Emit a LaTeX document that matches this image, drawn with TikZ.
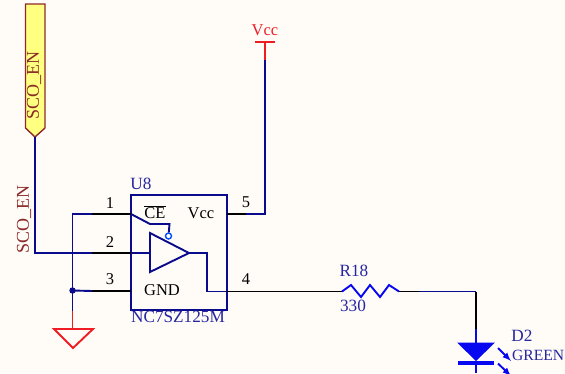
\documentclass[tikz,border=0pt]{standalone}
\usepackage{xcolor}
\usepackage{fontspec}
\setmainfont{Liberation Serif}
\definecolor{paper}{HTML}{FFFCF7}
\definecolor{wire}{HTML}{0A0A8C}
\definecolor{part}{HTML}{2626A0}
\definecolor{led}{HTML}{0808F0}
\definecolor{power}{HTML}{F01C24}
\definecolor{net}{HTML}{8C2A2A}
\definecolor{portfill}{HTML}{FFFF80}
\tikzset{
	wirel/.style={wire,line width=1.9pt},
	pinl/.style={black,line width=1.9pt},
	powerl/.style={power,line width=1.9pt},
	ledl/.style={led,line width=1.9pt},
	txt/.style={inner sep=0pt,font=\fontsize{16.5}{16.5}\selectfont},
	parttxt/.style={inner sep=0pt,text=part,font=\fontsize{17.2}{17.2}\selectfont},
	nettxt/.style={inner sep=0pt,text=net,rotate=90,font=\fontsize{18}{18}\selectfont},
}
\begin{document}
\begin{tikzpicture}[x=1pt,y=-1pt]
	\fill[paper] (0,0) rectangle (565,373);
	\useasboundingbox (0,0) rectangle (565,373);
	\clip (0,0) rectangle (565,373);
	% 端口
	\draw[fill=portfill,draw=net,line width=1.4pt] (25.5,4) -- (45,4) -- (45,128) -- (35,137) -- (25.5,128) -- cycle;
	\node[nettxt] (portlabel) at (34,85.5) {SCO\_EN};
	\node[nettxt] (netlabel) at (24,219.5) {SCO\_EN};
	% 连接点
	\coordinate (tip) at (35,137);
	\coordinate (c2) at (35,253);
	\coordinate (p2) at (92,253);
	\coordinate (e2) at (131,253);
	\coordinate (t1) at (72.5,214);
	\coordinate (p1) at (92,214);
	\coordinate (e1) at (131,214);
	\coordinate (p3) at (92,291);
	\coordinate (e3) at (131,291);
	\coordinate (g1) at (72.5,311);
	\coordinate (g2) at (72.5,329);
	\coordinate (j) at (72.5,290.5);
	\coordinate (e4) at (227,291.5);
	\coordinate (r1) at (342,291.5);
	\coordinate (r2) at (399,291.5);
	\coordinate (p5) at (227,214);
	\coordinate (q5) at (246,214);
	\coordinate (v1) at (265,214);
	\coordinate (v2) at (265,60);
	\coordinate (v3) at (265,42);
	\coordinate (w1) at (419,291.5);
	\coordinate (w2) at (476,291.5);
	\coordinate (w3) at (476,329);
	\coordinate (w4) at (476,343);
	\coordinate (w5) at (476,373);
	% 芯片
	\node[draw=wire,line width=1.9pt,minimum width=96pt,minimum height=115pt,inner sep=0pt] (U) at (179,252.5) {};
	\draw[wirel,line join=miter] (150,233) -- (189,253) -- (150,272) -- cycle;
	\coordinate (in) at (150,253);
	\coordinate (out) at (189,253);
	\node[draw=blue!70!cyan,fill=white,circle,line width=1.4pt,minimum size=6pt,inner sep=0pt] (en) at (168.5,236) {};
	\coordinate (c1) at (150,224);
	\coordinate (c3) at (169.5,224);
	% 导线
	\draw[wirel] (tip) -- (c2) -- (p2);
	\draw[pinl] (p2) -- (e2);
	\draw[wirel] (e2) -- (in);
	\draw[wirel] (p1) -- (t1) -- (g1);
	\draw[pinl] (p1) -- (e1);
	\draw[wirel] (e1) -- (c1) -- (c3) -- (en);
	\draw[wirel] (j) -- (p3);
	\draw[pinl] (p3) -- (e3);
	\draw[wirel] (out) -- (207,253) -- (207,291.5) -- (e4);
	\draw[pinl] (e4) -- (r1);
	\fill[wire] (j) circle (3.2pt);
	\draw[pinl] (p5) -- (q5);
	\draw[wirel] (q5) -- (v1) -- (v2);
	% 电源和地
	\draw[powerl] (v2) -- (v3);
	\draw[powerl] (255,42) -- (275,42);
	\node[txt,text=power] (vcctop) at (265,30) {Vcc};
	\draw[powerl] (g1) -- (g2);
	\draw[powerl,line join=miter] (54,329) -- (93,329) -- (73,348) -- cycle;
	% 电阻
	\draw[ledl] (r1) -- (351,285) -- (361,297) -- (370,285) -- (380,297) -- (389,285) -- (r2);
	\draw[pinl] (r2) -- (w1);
	\draw[wirel] (w1) -- (w2);
	\draw[pinl] (w2) -- (w3);
	% 发光二极管
	\draw[ledl] (w3) -- (w4);
	\fill[led] (457,342.5) -- (495,342.5) -- (476,361) -- cycle;
	\draw[led,line width=3.5pt] (458,363) -- (494,363);
	\draw[ledl] (476,363) -- (w5);
	\draw[ledl,-latex] (498,348) -- (511,361);
	\draw[ledl,-latex] (498,363.5) -- (511,376);
	% 写文字
	\node[txt] (n1) at (110,203) {1};
	\node[txt] (n2) at (110,242) {2};
	\node[txt] (n3) at (110,279) {3};
	\node[txt] (n4) at (246,279) {4};
	\node[txt] (n5) at (246,202) {5};
	\node[parttxt] (u8) at (141,184) {U8};
	\node[txt] (ce) at (155,212) {$\overline{\mbox{CE}}$};
	\node[txt] (vcc) at (201,213) {Vcc};
	\node[txt] (gnd) at (162,290) {GND};
	\node[parttxt] (partno) at (178,317) {NC7SZ125M};
	\node[parttxt] (r18) at (354,271) {R18};
	\node[parttxt] (val) at (353,306) {330};
	\node[parttxt] (d2) at (522,336) {D2};
	\node[inner sep=0pt,text=part,font=\fontsize{15.6}{15.6}\selectfont,anchor=west] (green) at (512,355) {GREEN};
\end{tikzpicture}
\end{document}
